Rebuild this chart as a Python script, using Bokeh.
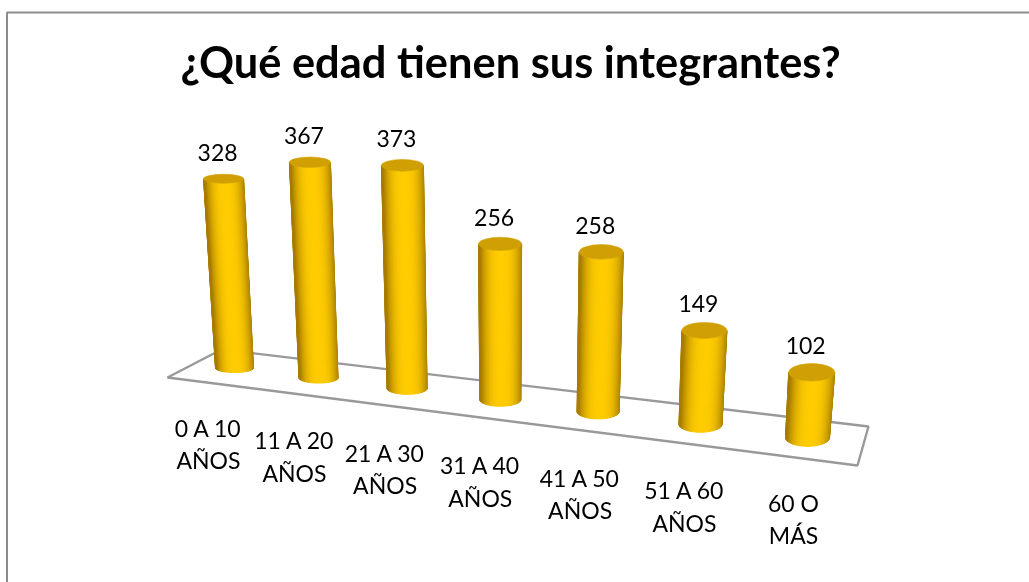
from bokeh.plotting import figure
from bokeh.models import ColumnDataSource
from bokeh.core.properties import value
from bokeh.embed import file_html
from bokeh.resources import INLINE
import math

TITLE = "¿Qué edad tienen sus integrantes?"
CATEGORIES = ["0 A 10\nAÑOS", "11 A 20\nAÑOS", "21 A 30\nAÑOS", "31 A 40\nAÑOS",
              "41 A 50\nAÑOS", "51 A 60\nAÑOS", "60 O\nMÁS"]
VALUES = [328, 367, 373, 256, 258, 149, 102]

W, H = 1029, 582
FONT = "Lato"


# --- the oblique view of the chart: category index and value to page position
def base_x(i):
    return 234 + 84 * i + 2.3 * i * (i - 1)

def base_y(i):
    return 367.5 + 9.5 * i + 0.35 * i * i

def height(i, v):
    return v * (0.577 + 0.0105 * i)

def top_x(i, v):
    return base_x(i) + (base_x(i) - 505) * 0.000213 * height(i, v)

def top_y(i, v):
    return base_y(i) - height(i, v)

def radius_x(i):
    return 19.5 + 0.5 * i

def radius_y(i):
    return 4.5 + 0.7 * i


def mix(a, b, t):
    return "#%02x%02x%02x" % tuple(round(a[k] + (b[k] - a[k]) * t) for k in range(3))


BRIGHT, DARK_L, DARK_R = (255, 204, 0), (168, 124, 0), (160, 120, 0)
STRIPS = 40

p = figure(width=W, height=H, x_range=(0, W), y_range=(H, 0), toolbar_location=None,
           output_backend="svg", min_border=0, outline_line_color=None,
           x_axis_location=None, y_axis_location=None)
p.grid.visible = False
p.background_fill_color = "#ffffff"
p.styles = {"position": "fixed", "left": "0px", "top": "0px"}

# outer frame, running off the right and bottom of the picture
p.line([6.5, 6.5, W], [H, 12, 12], line_color="#8c8c8c", line_width=2)

# floor
p.patch([167, 221, 868, 857, 167], [377, 349, 426, 465, 377], fill_color="#ffffff",
        line_color="#999999", line_width=2.4)

# cylinder walls as thin shaded strips
xs, ys, cols = [], [], []
for i, v in enumerate(VALUES):
    bx, by, tx, ty = base_x(i), base_y(i), top_x(i, v), top_y(i, v)
    rb, rt, ry = radius_x(i) - 0.5, radius_x(i) + 0.5, radius_y(i)
    for s in range(STRIPS):
        a0 = math.pi * s / STRIPS
        a1 = math.pi * (s + 1) / STRIPS
        u = math.cos((a0 + a1) / 2)
        d = u - 0.05
        t = min(1, abs(d) ** 2.6)
        cols.append(mix(BRIGHT, DARK_R if d > 0 else DARK_L, t))
        xs.append([tx + rt * math.cos(a0), bx + rb * math.cos(a0), bx + rb * math.cos(a1), tx + rt * math.cos(a1)])
        ys.append([ty + ry * math.sin(a0), by + ry * math.sin(a0), by + ry * math.sin(a1), ty + ry * math.sin(a1)])
p.patches("xs", "ys", source=ColumnDataSource(dict(xs=xs, ys=ys, c=cols)),
          fill_color="c", line_color="c", line_width=1)

# cylinder lids
idx = range(len(VALUES))
p.ellipse([top_x(i, VALUES[i]) for i in idx], [top_y(i, VALUES[i]) for i in idx],
          width=[2 * radius_x(i) + 1 for i in idx], height=[2 * radius_y(i) for i in idx],
          fill_color="#cf9f04", line_color="#d3a405", line_width=0.6)

# value labels
p.text([top_x(i, VALUES[i]) - 6 for i in idx], [top_y(i, VALUES[i]) - 26.5 for i in idx],
       text=[str(v) for v in VALUES], text_font=value(FONT), text_font_size="23px",
       text_color="#000000", text_align="center", text_baseline="alphabetic")

# category labels, two lines each
for line in (0, 1):
    p.text([208 + 86 * i + 2.3 * i * (i - 1) for i in idx],
           [427 + 12.5 * i + 32.5 * line for i in idx],
           text=[c.split("\n")[line] for c in CATEGORIES], text_font=value(FONT),
           text_font_size="23px", text_color="#000000", text_align="center",
           text_baseline="alphabetic")

p.text([510], [60], text=[TITLE], text_font=value(FONT), text_font_size="43.4px",
       text_font_style="bold", text_color="#000000", text_align="center",
       text_baseline="alphabetic")

open("out.html", "w").write(file_html(p, INLINE))
